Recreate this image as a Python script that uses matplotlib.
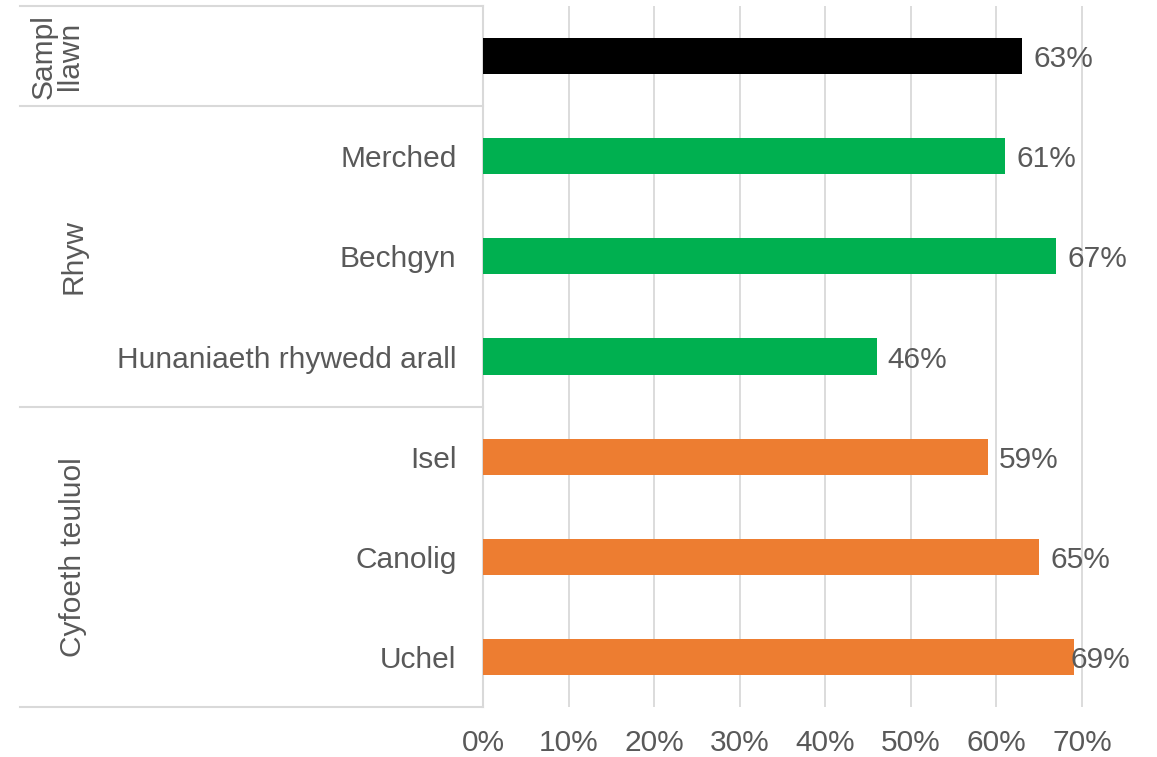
import matplotlib
matplotlib.use("Agg")
import matplotlib.pyplot as plt
import matplotlib.transforms as mtransforms
from matplotlib.ticker import PercentFormatter

plt.rcParams['font.family'] = ['Liberation Sans', 'DejaVu Sans']

# ----------------------------- data
categories = ['', 'Merched', 'Bechgyn', 'Hunaniaeth rhywedd arall',
              'Isel', 'Canolig', 'Uchel']
values = [0.63, 0.61, 0.67, 0.46, 0.59, 0.65, 0.69]
bar_colors = ['#000000', '#00B050', '#00B050', '#00B050',
              '#ED7D31', '#ED7D31', '#ED7D31']
groups = ['Sampl\nllawn', 'Rhyw', 'Cyfoeth teuluol']
group_rows = [(0, 0), (1, 3), (4, 6)]   # first and last row of each group
xticks = [0, 0.1, 0.2, 0.3, 0.4, 0.5, 0.6, 0.7]

text_col = '#595959'
line_col = '#D9D9D9'
fs = 21.5

# ----------------------------- figure
W, H = 1157, 757
fig = plt.figure(figsize=(W / 100, H / 100), dpi=100)
ax_left, ax_right, ax_top, ax_bot = 483, 1130, 6, 707
ax = fig.add_axes([ax_left / W, 1 - ax_bot / H,
                   (ax_right - ax_left) / W, (ax_bot - ax_top) / H])

rows = list(range(len(categories)))
ax.barh(rows, values, height=0.36, color=bar_colors, zorder=3)

xmax = 0.756
ax.set_xlim(0, xmax)
ax.set_ylim(len(categories) - 0.5, -0.5)

# value labels (pushed inside the plot area when they would overflow)
label_w = 0.068
for r, v in zip(rows, values):
    txt = '{:.0f}%'.format(v * 100)
    if v + 0.013 + label_w > xmax:
        ax.text(xmax, r, txt, ha='right', va='center_baseline', fontsize=fs, color=text_col)
    else:
        ax.text(v + 0.013, r, txt, ha='left', va='center_baseline', fontsize=fs, color=text_col)

# axes styling
ax.set_xticks(xticks)
ax.xaxis.set_major_formatter(PercentFormatter(1.0, decimals=0))
ax.tick_params(axis='x', length=0, pad=16, labelsize=fs, labelcolor=text_col)
ax.set_yticks(rows)
ax.set_yticklabels(categories)
ax.tick_params(axis='y', length=0, pad=19, labelsize=fs, labelcolor=text_col)
ax.xaxis.grid(True, color=line_col, linewidth=1.3, zorder=0)
ax.set_axisbelow(True)
for s in ['top', 'right', 'bottom']:
    ax.spines[s].set_visible(False)
ax.spines['left'].set_color(line_col)
ax.spines['left'].set_linewidth(1.5)

# group separators and group labels on the left
trans = mtransforms.blended_transform_factory(ax.transAxes, ax.transData)
x0 = (20 - ax_left) / (ax_right - ax_left)
for y in [-0.5, 0.5, 3.5, 6.5]:
    ax.plot([x0, 0], [y, y], color=line_col, linewidth=1.5,
            transform=trans, clip_on=False)

group_x = [57, 73, 73]
for g, (a, b), gx in zip(groups, group_rows, group_x):
    ax.text((gx - ax_left) / (ax_right - ax_left), (a + b) / 2, g,
            transform=trans, rotation=90, ha='center', va='center',
            multialignment='center', linespacing=0.95,
            fontsize=fs, color=text_col)

plt.savefig('out.png', dpi=100)
